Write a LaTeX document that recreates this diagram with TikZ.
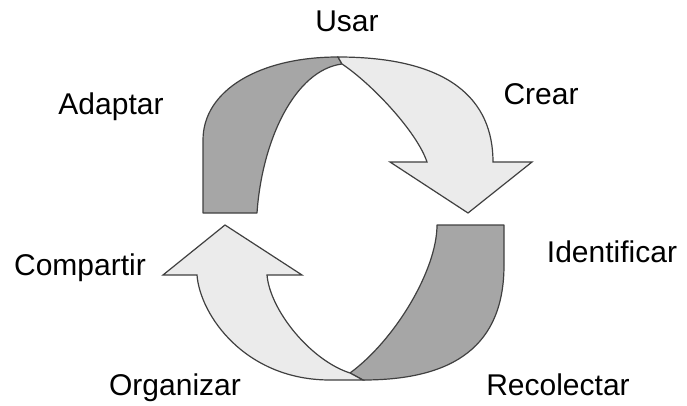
\documentclass[tikz,border=0pt]{standalone}
\usepackage{fontspec}
\setmainfont{Liberation Sans}
\usetikzlibrary{positioning}

\begin{document}
\begin{tikzpicture}[x=1pt,y=-1pt,
  lbl/.style={anchor=base,font=\fontsize{30}{36}\selectfont},
  back/.style={fill=black!35,draw=black!75,line width=1.2pt,line join=round},
  front/.style={fill=black!8,draw=black!75,line width=1.2pt}]
  \useasboundingbox (0,0) rectangle (687,406);
  % upper ribbon
  \draw[back] (203,213) -- (203,140) .. controls (203,90) and (260,57) .. (338,57)
    -- (342,64) .. controls (295,70) and (262,140) .. (257,213) -- cycle;
  \draw[front] (338,57) .. controls (450,57) and (493,100) .. (493,162)
    -- (532,162) -- (468,213) -- (390,162) -- (427,162)
    .. controls (417,132) and (372,84) .. (342,64) -- cycle;
  % lower ribbon
  \draw[back] (504,225) -- (504,265) .. controls (504,345) and (455,380) .. (363,380)
    -- (350,373) .. controls (395,340) and (437,270) .. (437,225) -- cycle;
  \draw[front] (363,380) -- (330,380) .. controls (245,380) and (200,315) .. (197,275)
    -- (163,275) -- (225,225) -- (302,275) -- (267,275)
    .. controls (270,310) and (310,360) .. (350,373) -- cycle;
  % labels
  \foreach \x/\y/\name/\txt in {347/32/usar/Usar, 111/115/adaptar/Adaptar,
      541/105/crear/Crear, 612/262/identificar/Identificar,
      80/275/compartir/Compartir, 175/395/organizar/Organizar,
      558/395/recolectar/Recolectar}
    \node[lbl] (\name) at (\x,\y) {\txt};
\end{tikzpicture}
\end{document}
